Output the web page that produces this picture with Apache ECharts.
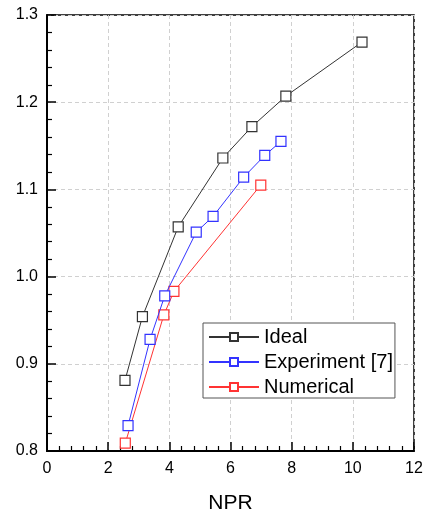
<!DOCTYPE html>
<html><head><meta charset="utf-8">
<script src="https://cdn.jsdelivr.net/npm/echarts@6/dist/echarts.min.js"></script>
<style>html,body{margin:0;padding:0;background:#fff}#c{width:426px;height:513px}</style>
</head><body><div id="c"></div>
<script>
const idealX = [2.55, 3.12, 4.29, 5.75, 6.70, 7.81, 10.30];
const idealY = [0.881, 0.954, 1.057, 1.136, 1.172, 1.207, 1.269];
const expX = [2.65, 3.37, 3.85, 4.88, 5.43, 6.43, 7.12, 7.65];
const expY = [0.829, 0.928, 0.978, 1.051, 1.069, 1.114, 1.139, 1.155];
const numX = [2.56, 3.82, 4.15, 6.99];
const numY = [0.809, 0.956, 0.983, 1.105];
const seriesNames = ['Ideal', 'Experiment [7]', 'Numerical'];
const seriesColors = ['#333333', '#3333ff', '#ff3333'];
const xTicks = {min: 0, max: 12, interval: 2};
const yTicks = {min: 0.8, max: 1.3, interval: 0.1};
const xTitle = 'NPR';

const zip = (xs, ys) => xs.map((x, i) => [x, ys[i]]);
const datas = [zip(idealX, idealY), zip(expX, expY), zip(numX, numY)];
const FONT = '"Liberation Sans", Arial, sans-serif';

const chart = echarts.init(document.getElementById('c'), null, {renderer: 'canvas'});
chart.setOption({
  animation: false,
  backgroundColor: '#fff',
  grid: {left: 47, right: 12, top: 15, bottom: 62, containLabel: false, outerBoundsMode: 'none', show: true, borderColor: '#000', borderWidth: 1.5, backgroundColor: 'transparent'},
  xAxis: {
    type: 'value', min: xTicks.min, max: xTicks.max, interval: xTicks.interval,
    name: xTitle, nameLocation: 'middle', nameGap: 42,
    nameTextStyle: {fontFamily: FONT, fontSize: 21, color: '#000'},
    axisLine: {show: true, lineStyle: {color: '#000', width: 2}},
    axisTick: {show: true, inside: true, length: 9, lineStyle: {color: '#000', width: 1.5}},
    minorTick: {show: true, splitNumber: 5, length: 5, lineStyle: {color: '#000', width: 1.2}},
    axisLabel: {fontFamily: FONT, fontSize: 16, color: '#000', margin: 10},
    splitLine: {show: true, lineStyle: {color: '#d0d0d0', type: [4, 3], width: 1}}
  },
  yAxis: {
    type: 'value', min: yTicks.min, max: yTicks.max, interval: yTicks.interval,
    axisLine: {show: true, lineStyle: {color: '#000', width: 2}},
    axisTick: {show: true, inside: true, length: 9, lineStyle: {color: '#000', width: 1.5}},
    minorTick: {show: true, splitNumber: 5, length: 5, lineStyle: {color: '#000', width: 1.2}},
    axisLabel: {fontFamily: FONT, fontSize: 16, color: '#000', margin: 9, formatter: v => v.toFixed(1)},
    splitLine: {show: true, lineStyle: {color: '#d0d0d0', type: [4, 3], width: 1}}
  },
  legend: {
    orient: 'vertical', left: 203, top: 323,
    borderColor: '#555', borderWidth: 1, backgroundColor: '#fff',
    padding: [3, 2, 0, 5], itemGap: 3, itemWidth: 50, itemHeight: 10, itemTextGap: 6,
    textStyle: {fontFamily: FONT, fontSize: 20, color: '#000', lineHeight: 22},
    data: seriesNames
  },
  series: datas.map((d, i) => ({
    name: seriesNames[i], type: 'line', data: d,
    symbol: 'rect', symbolSize: 10,
    lineStyle: {color: seriesColors[i], width: 1},
    itemStyle: {color: '#fff', borderColor: seriesColors[i], borderWidth: 1.2},
    z: 3 - i
  }))
});
</script></body></html>
